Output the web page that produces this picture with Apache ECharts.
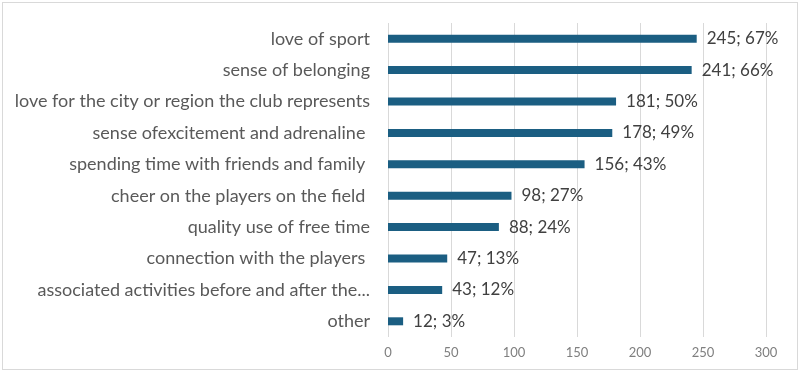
<!DOCTYPE html>
<html>
<head>
<meta charset="utf-8">
<script src="https://cdn.jsdelivr.net/npm/echarts@6/dist/echarts.min.js"></script>
<style>
body { margin: 0; background: #fff; }
#frame { position: absolute; left: 2px; top: 2px; width: 794px; height: 366px; border: 1px solid #d9d9d9; }
#chart { position: absolute; left: 0; top: 0; width: 800px; height: 372px; }
</style>
</head>
<body>
<div id="frame"></div>
<div id="chart"></div>
<script>
// categories from top to bottom
var categories = [
	'love of sport',
	'sense of belonging',
	'love for the city or region the club represents',
	'sense ofexcitement and adrenaline ',
	'spending time with friends and family ',
	'cheer on the players on the field ',
	'quality use of free time',
	'connection with the players ',
	'associated activities before and after the...',
	'other'
];
var counts = [245, 241, 181, 178, 156, 98, 88, 47, 43, 12];
var percents = [67, 66, 50, 49, 43, 27, 24, 13, 12, 3];
var xTicks = [0, 50, 100, 150, 200, 250, 300];

var font = 'Lato, "Open Sans", sans-serif';

var option = {
	animation : false,
	grid : {
		left : 388,
		right : 34,
		top : 23,
		height : 314
	},
	xAxis : {
		type : 'value',
		min : xTicks[0],
		max : xTicks[xTicks.length - 1],
		interval : xTicks[1] - xTicks[0],
		axisLine : { show : false },
		axisTick : { show : false },
		axisLabel : {
			color : '#7f7f7f',
			fontFamily : font,
			fontSize : 13,
			margin : 9
		},
		splitLine : {
			show : true,
			lineStyle : { color : '#d9d9d9', width : 1 }
		}
	},
	yAxis : {
		type : 'category',
		inverse : true,
		data : categories,
		axisLine : { show : false },
		axisTick : { show : false },
		axisLabel : {
			color : '#595959',
			fontFamily : font,
			fontSize : 18,
			margin : 18
		}
	},
	series : [ {
		type : 'bar',
		data : counts,
		barWidth : 8,
		itemStyle : { color : '#1b5e82' },
		label : {
			show : true,
			position : 'right',
			distance : 10,
			color : '#404040',
			fontFamily : font,
			fontSize : 17,
			formatter : function(p) {
				return counts[p.dataIndex] + '; ' + percents[p.dataIndex] + '%';
			}
		}
	} ]
};

var chart = echarts.init(document.getElementById('chart'));
chart.setOption(option);
</script>
</body>
</html>
